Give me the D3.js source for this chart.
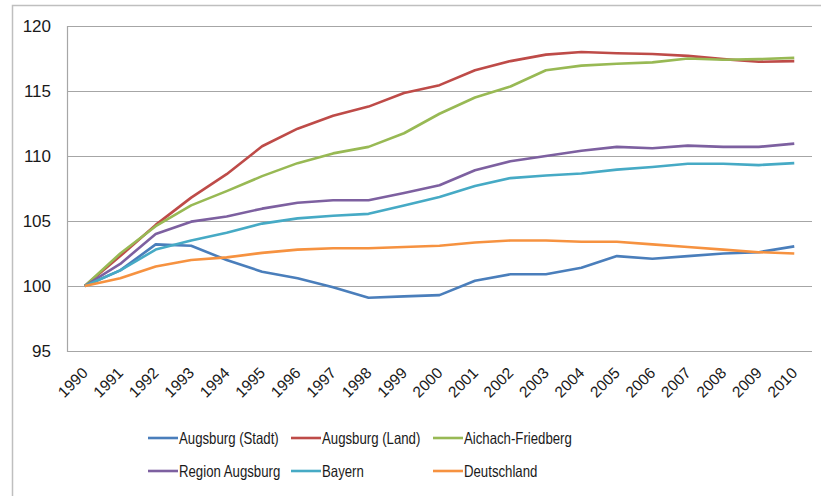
<!DOCTYPE html>
<html>
<head>
<meta charset="utf-8">
<script src="https://cdn.jsdelivr.net/npm/d3@7"></script>
<style>
  html, body { margin: 0; padding: 0; background: #fff; }
  svg { display: block; }
</style>
</head>
<body>
<svg id="chart" width="821" height="496"></svg>
<script>
const years = ['1990', '1991', '1992', '1993', '1994', '1995', '1996', '1997', '1998', '1999', '2000',
  '2001', '2002', '2003', '2004', '2005', '2006', '2007', '2008', '2009', '2010'];
const yTicks = [95, 100, 105, 110, 115, 120];

const augsburgStadt = [100, 101.2, 103.2, 103.1, 102.0, 101.1, 100.6, 99.9, 99.1, 99.2, 99.3,
  100.4, 100.9, 100.9, 101.4, 102.3, 102.1, 102.3, 102.5, 102.6, 103.05];
const augsburgLand = [100, 102.3, 104.7, 106.8, 108.6, 110.75, 112.1, 113.1, 113.8, 114.85, 115.45,
  116.6, 117.3, 117.8, 118.0, 117.9, 117.85, 117.7, 117.45, 117.25, 117.3];
const aichachFriedberg = [100, 102.5, 104.6, 106.2, 107.3, 108.45, 109.45, 110.2, 110.7, 111.75, 113.25,
  114.5, 115.35, 116.6, 116.95, 117.1, 117.2, 117.5, 117.4, 117.45, 117.55];
const regionAugsburg = [100, 101.7, 104.0, 104.95, 105.35, 105.95, 106.4, 106.6, 106.6, 107.15, 107.75,
  108.9, 109.6, 110.0, 110.4, 110.7, 110.6, 110.8, 110.7, 110.7, 110.95];
const bayern = [100, 101.2, 102.8, 103.5, 104.1, 104.8, 105.2, 105.4, 105.55, 106.2, 106.85,
  107.7, 108.3, 108.5, 108.65, 108.95, 109.15, 109.4, 109.4, 109.3, 109.45];
const deutschland = [100, 100.6, 101.5, 102.0, 102.2, 102.55, 102.8, 102.9, 102.9, 103.0, 103.1,
  103.35, 103.5, 103.5, 103.4, 103.4, 103.2, 103.0, 102.8, 102.6, 102.5];

const seriesNames = ['Augsburg (Stadt)', 'Augsburg (Land)', 'Aichach-Friedberg', 'Region Augsburg', 'Bayern', 'Deutschland'];
const seriesValues = [augsburgStadt, augsburgLand, aichachFriedberg, regionAugsburg, bayern, deutschland];
const colors = ['#4a7ebb', '#be4b48', '#98b954', '#7d60a0', '#46aac5', '#f69240'];

const svg = d3.select('#chart');
const plot = { left: 67, right: 812, top: 26, bottom: 351 };

const x = d3.scalePoint().domain(years).range([plot.left, plot.right]).padding(0.5);
const y = d3.scaleLinear().domain([95, 120]).range([plot.bottom, plot.top]);

// outer chart frame
svg.append('path')
  .attr('d', `M12.5,${496 + 2}V5.5H${821 + 2}`)
  .attr('fill', 'none')
  .attr('stroke', '#bfbfbf')
  .attr('stroke-width', 1.5);

// gridlines
svg.append('g')
  .selectAll('line')
  .data(yTicks)
  .join('line')
  .attr('x1', plot.left)
  .attr('x2', plot.right)
  .attr('y1', (d) => Math.round(y(d)) + 0.5)
  .attr('y2', (d) => Math.round(y(d)) + 0.5)
  .attr('stroke', '#a6a6a6')
  .attr('stroke-width', 1.2);

// y axis line
svg.append('line')
  .attr('x1', plot.left + 0.5).attr('x2', plot.left + 0.5)
  .attr('y1', plot.top).attr('y2', plot.bottom + 1)
  .attr('stroke', '#a6a6a6')
  .attr('stroke-width', 1.2);

// y labels
svg.append('g')
  .selectAll('text')
  .data(yTicks)
  .join('text')
  .attr('x', 51)
  .attr('y', (d) => y(d))
  .attr('dy', '0.36em')
  .attr('text-anchor', 'end')
  .attr('font-family', '"Liberation Sans", Arial, sans-serif')
  .attr('font-size', 17)
  .attr('fill', '#1a1a1a')
  .text((d) => d);

// x labels
svg.append('g')
  .selectAll('text')
  .data(years)
  .join('text')
  .attr('transform', (d) => `translate(${x(d) + 4},${374}) rotate(-45)`)
  .attr('text-anchor', 'end')
  .attr('font-family', '"Liberation Sans", Arial, sans-serif')
  .attr('font-size', 15.5)
  .attr('fill', '#1a1a1a')
  .text((d) => d);

// lines
const line = d3.line()
  .x((d, i) => x(years[i]))
  .y((d) => y(d));

svg.append('g')
  .selectAll('path')
  .data(seriesValues)
  .join('path')
  .attr('d', line)
  .attr('fill', 'none')
  .attr('stroke', (d, i) => colors[i])
  .attr('stroke-width', 2.6)
  .attr('stroke-linejoin', 'round');

// legend
const legendCols = [148, 291, 433];
const legendRows = [438, 471];
const legend = svg.append('g')
  .selectAll('g')
  .data(seriesNames)
  .join('g')
  .attr('transform', (d, i) => `translate(${legendCols[i % 3]},${legendRows[Math.floor(i / 3)]})`);

legend.append('line')
  .attr('x1', 0).attr('x2', 30)
  .attr('stroke', (d, i) => colors[i])
  .attr('stroke-width', 2.6);

// narrow the text a bit, the original uses a condensed face
legend.append('text')
  .attr('transform', 'translate(31,0) scale(0.8,1)')
  .attr('dy', '0.35em')
  .attr('font-family', '"Liberation Sans", Arial, sans-serif')
  .attr('font-size', 16.5)
  .attr('fill', '#1a1a1a')
  .text((d) => d);
</script>
</body>
</html>
